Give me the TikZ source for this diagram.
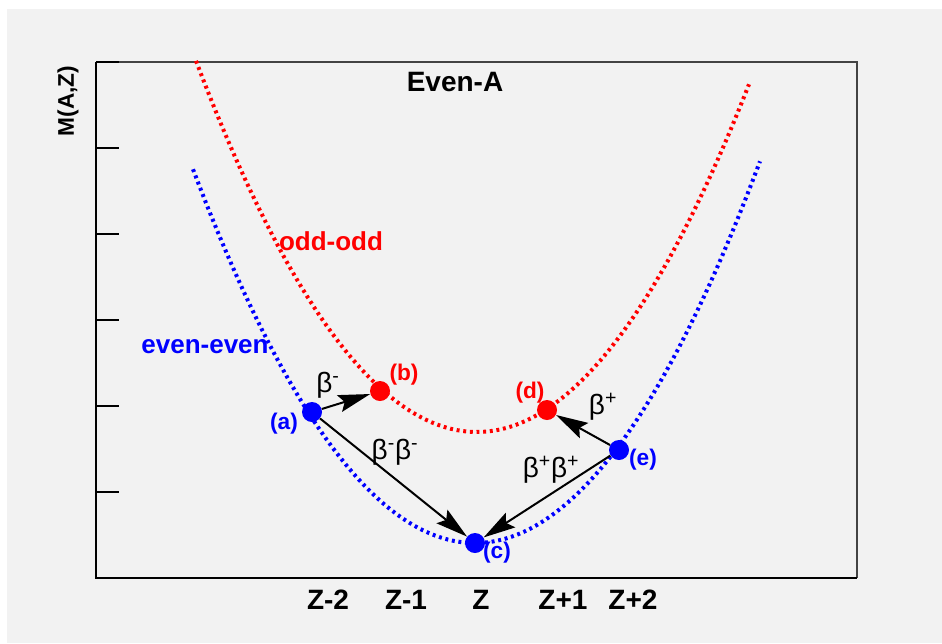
\documentclass[tikz,border=0pt]{standalone}
\usepackage{fontspec}
\setmainfont{Liberation Sans}
\usetikzlibrary{arrows.meta, positioning}

\definecolor{canvas}{HTML}{F2F2F2}
\definecolor{framegray}{HTML}{444444}

\tikzset{
  dotcurve/.style={line width=3pt, dash pattern=on 2.2pt off 2.8pt},
  nucleus/.style={circle, fill, inner sep=0pt, minimum size=15pt},
  decay/.style={-{Stealth[length=24pt, width=13pt, inset=4pt]}, line width=1.5pt},
  ptlabel/.style={font=\bfseries\fontsize{17}{17}\selectfont, inner sep=0pt},
  modelabel/.style={font=\fontsize{21}{21}\selectfont, inner sep=0pt},
  zlabel/.style={font=\bfseries\fontsize{21}{21}\selectfont, inner sep=0pt},
  curvelabel/.style={font=\bfseries\fontsize{19.5}{19.5}\selectfont, inner sep=0pt}
}

\begin{document}
\begin{tikzpicture}[x=0.75pt, y=-0.75pt]
    \useasboundingbox (0,0) rectangle (942,643);
    \fill[canvas] (7,9) rectangle (942,643);

    % frame and axis
    \draw[framegray, line width=1.6pt] (96,62) -- (857,62) -- (857,578);
    \draw[black, line width=1.8pt] (96,62) -- (96,578) -- (857,578);
    \foreach \ty in {62,148,234,320,406,492}
      \draw[black, line width=1.2pt] (96,\ty) -- (119,\ty);

    \node[zlabel, rotate=90, font=\bfseries\fontsize{17}{17}\selectfont] (ylab) at (68,101) {M(A,Z)};
    \node[zlabel] (title) at (455,82) {Even-A};

    % mass parabolas
    \draw[blue, dotcurve] plot[domain=-2.82:2.85, samples=90] ({475+100*\x}, {543-47*\x*\x});
    \draw[red, dotcurve] plot[domain=-2.81:2.72, samples=90] ({477+100*\x}, {432-47*\x*\x});

    \node[curvelabel, red] (oddodd) at (331,241) {odd-odd};
    \node[curvelabel, blue] (eveneven) at (205,347) {even-even};

    % nuclei
    \node[nucleus, blue] (a) at (312,412) {};
    \node[nucleus, red] (b) at (380,391) {};
    \node[nucleus, blue] (c) at (475,543) {};
    \node[nucleus, red] (d) at (547,410) {};
    \node[nucleus, blue] (e) at (619,450) {};

    \node[ptlabel, blue] (alab) at (284,424) {(a)};
    \node[ptlabel, red] (blab) at (404,375) {(b)};
    \node[ptlabel, blue] (clab) at (497,553) {(c)};
    \node[ptlabel, red] (dlab) at (530,393) {(d)};
    \node[ptlabel, blue] (elab) at (643,460) {(e)};

    % decays
    \draw[decay] (a) -- (b);
    \draw[decay] (a) -- (c);
    \draw[decay] (e) -- (d);
    \draw[decay] (e) -- (c);

    \node[modelabel] (bm) at (328,385) {β\textsuperscript{-}};
    \node[modelabel] (bbm) at (395,452) {β\textsuperscript{-}β\textsuperscript{-}};
    \node[modelabel] (bbp) at (551,470) {β\textsuperscript{+}β\textsuperscript{+}};
    \node[modelabel] (bp) at (603,407) {β\textsuperscript{+}};

    % Z values
    \node[zlabel] (z1) at (328,600) {Z-2};
    \node[zlabel] (z2) at (406,600) {Z-1};
    \node[zlabel] (z3) at (481,600) {Z};
    \node[zlabel] (z4) at (563,600) {Z+1};
    \node[zlabel] (z5) at (633,600) {Z+2};
\end{tikzpicture}
\end{document}
